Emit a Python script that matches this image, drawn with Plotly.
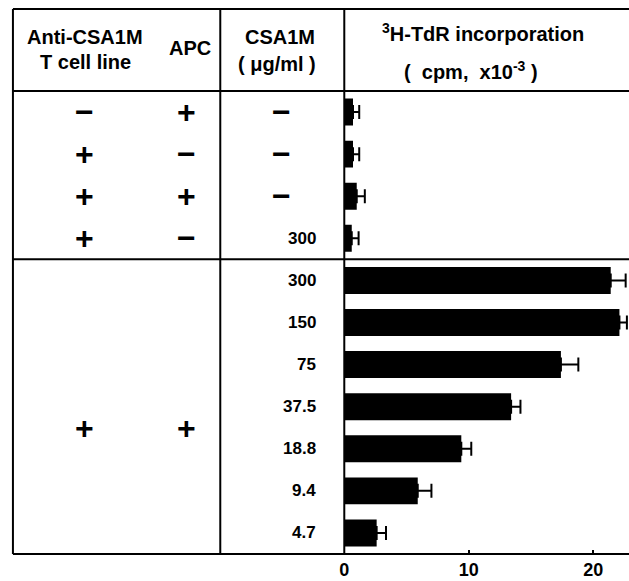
import plotly.graph_objects as go

# ---- data ----
tcell_line = ["−", "+", "+", "+"]
apc = ["+", "−", "+", "−"]
csa1m = ["−", "−", "−", "300", "300", "150", "75", "37.5", "18.8", "9.4", "4.7"]
cpm = [0.7, 0.7, 1.0, 0.6, 21.4, 22.1, 17.4, 13.4, 9.4, 5.9, 2.6]
cpm_err = [0.5, 0.5, 0.65, 0.55, 1.2, 0.6, 1.4, 0.75, 0.8, 1.1, 0.75]
group2_tcell = "+"
group2_apc = "+"
xticks = [0, 10, 20]

rows = list(range(len(cpm)))

W, H = 629, 581
T, B = 91, 27
FONT = "Liberation Sans, Arial, Helvetica, sans-serif"
NB = "\u00a0"


def px_x(px):
    return px / W


def px_y(py):
    return (H - B - py) / (H - T - B)


def f(size):
    return dict(family=FONT, size=size, color="black", weight="bold")


fig = go.Figure()
fig.add_trace(go.Bar(
    x=cpm, y=rows, orientation="h", width=0.64,
    marker=dict(color="black", line=dict(width=0)),
    error_x=dict(type="data", symmetric=False, array=cpm_err,
                 arrayminus=[0] * len(cpm), color="black",
                 thickness=2, width=7),
))

ann = []
# header
hdr = dict(xref="paper", yref="paper", showarrow=False,
           xanchor="center", yanchor="middle", font=f(20))
ann.append(dict(hdr, x=px_x(81), y=px_y(37), text="Anti-CSA1M"))
ann.append(dict(hdr, x=px_x(81), y=px_y(62), text="T cell line"))
ann.append(dict(hdr, x=px_x(186), y=px_y(48), text="APC"))
ann.append(dict(hdr, x=px_x(277), y=px_y(37), text="CSA1M"))
ann.append(dict(hdr, x=px_x(274), y=px_y(64), text="(" + NB + "μg/ml" + NB + ")"))
ann.append(dict(hdr, x=px_x(482), y=px_y(32), text="<sup>3</sup>H-TdR incorporation"))
ann.append(dict(hdr, x=px_x(470), y=px_y(70),
                text="(" + NB + NB + "cpm," + NB + NB + "x10<sup>-3</sup>" + NB + ")"))

sym = dict(xref="paper", yref="y", showarrow=False,
           xanchor="center", yanchor="middle", font=f(32))
for i, (t, a) in enumerate(zip(tcell_line, apc)):
    ann.append(dict(sym, x=px_x(80), y=i, text=t))
    ann.append(dict(sym, x=px_x(183), y=i, text=a))
ann.append(dict(sym, x=px_x(80), y=7.5, text=group2_tcell))
ann.append(dict(sym, x=px_x(183), y=7.5, text=group2_apc))

for i, c in enumerate(csa1m):
    if c == "−":
        ann.append(dict(sym, x=px_x(279), y=i, text="−"))
    else:
        ann.append(dict(xref="paper", yref="y", showarrow=False, x=px_x(316),
                        xanchor="right", yanchor="middle", y=i,
                        text=c, font=f(17)))

line = dict(color="black", width=2)
top = px_y(9)
shapes = [
    dict(type="line", xref="paper", yref="paper", x0=px_x(8), x1=1, y0=top, y1=top, line=line),
    dict(type="line", xref="paper", yref="paper", x0=px_x(8), x1=1, y0=1, y1=1, line=line),
    dict(type="line", xref="paper", yref="y", x0=px_x(8), x1=1, y0=3.5, y1=3.5, line=line),
    dict(type="line", xref="paper", yref="paper", x0=px_x(8), x1=1, y0=0, y1=0, line=line),
    dict(type="line", xref="paper", yref="paper", x0=px_x(8), x1=px_x(8), y0=0, y1=top, line=line),
    dict(type="line", xref="paper", yref="paper", x0=px_x(217), x1=px_x(217), y0=0, y1=top, line=line),
    dict(type="line", xref="paper", yref="paper", x0=px_x(342), x1=px_x(342), y0=0, y1=top, line=line),
]

fig.update_layout(
    width=W, height=H,
    margin=dict(l=0, r=0, t=T, b=B, pad=0),
    paper_bgcolor="white", plot_bgcolor="white",
    showlegend=False,
    annotations=ann, shapes=shapes,
    xaxis=dict(domain=[px_x(342), 1], range=[0, (W - 342) / 12.55],
               tickvals=xticks, showgrid=False, zeroline=False,
               showline=False, ticks="inside", ticklen=4, tickwidth=1.5,
               tickcolor="black", ticklabelstandoff=3,
               tickfont=f(18)),
    yaxis=dict(range=[10.5, -0.5], showticklabels=False, showgrid=False,
               zeroline=False, showline=False, ticks=""),
)

fig.write_html("out.html")
